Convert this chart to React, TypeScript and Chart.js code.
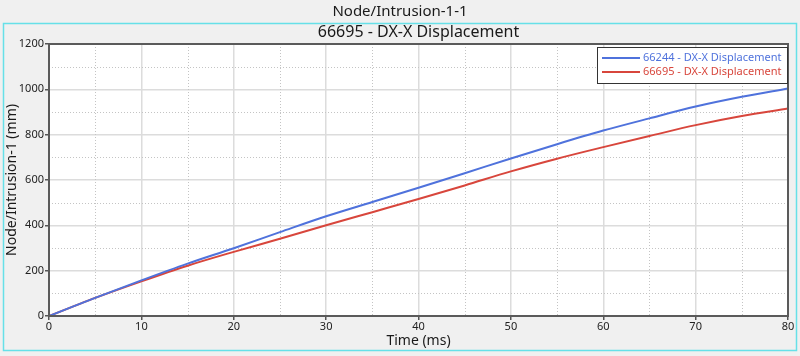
import React, { useEffect, useRef } from "react";
import { Chart, registerables } from "chart.js";

Chart.register(...registerables);

const timeMs = [0, 2.5, 5, 10, 15, 20, 25, 30, 35, 40, 45, 50, 55, 60, 65, 70, 75, 80];
const dx66244 = [0, 40, 80, 157, 231, 299, 370, 440, 503, 566, 630, 695, 758, 818, 872, 924, 967, 1004];
const dx66695 = [0, 40, 80, 153, 222, 283, 341, 400, 458, 516, 576, 638, 694, 745, 794, 842, 882, 915];
const seriesLabels = ["66244 - DX-X Displacement", "66695 - DX-X Displacement"];
const seriesColors = ["#4f72dc", "#d8463c"];
const xTicks = [0, 10, 20, 30, 40, 50, 60, 70, 80];
const yTicks = [0, 200, 400, 600, 800, 1000, 1200];
const xMinor = [5, 15, 25, 35, 45, 55, 65, 75];
const yMinor = [100, 300, 500, 700, 900, 1100];
const mainTitle = "Node/Intrusion-1-1";
const subTitle = "66695 - DX-X Displacement";
const xTitle = "Time (ms)";
const yTitle = "Node/Intrusion-1 (mm)";

const FONT = "'Noto Sans', 'Open Sans', sans-serif";

const decorPlugin = {
  id: "decor",
  beforeDraw(chart: any) {
    const { ctx, width, height, chartArea: a } = chart;
    ctx.save();
    ctx.fillStyle = "#f0f0f0";
    ctx.fillRect(0, 0, width, height);
    ctx.strokeStyle = "#66e0e8";
    ctx.lineWidth = 1.5;
    ctx.strokeRect(3.5, 23.5, 793, 327);
    ctx.fillStyle = "#ffffff";
    ctx.fillRect(a.left, a.top, a.right - a.left, a.bottom - a.top);
    ctx.restore();
  },
  beforeDatasetsDraw(chart: any) {
    const { ctx, chartArea: a, scales } = chart;
    ctx.save();
    ctx.strokeStyle = "#c4c4c4";
    ctx.lineWidth = 1;
    ctx.setLineDash([1, 2]);
    xMinor.forEach((v) => {
      const px = Math.round(scales.x.getPixelForValue(v)) + 0.5;
      ctx.beginPath();
      ctx.moveTo(px, a.top);
      ctx.lineTo(px, a.bottom);
      ctx.stroke();
    });
    yMinor.forEach((v) => {
      const py = Math.round(scales.y.getPixelForValue(v)) + 0.5;
      ctx.beginPath();
      ctx.moveTo(a.left, py);
      ctx.lineTo(a.right, py);
      ctx.stroke();
    });
    ctx.restore();
  },
  afterDraw(chart: any) {
    const { ctx, chartArea: a } = chart;
    ctx.save();
    ctx.strokeStyle = "#5a5a5a";
    ctx.lineWidth = 2;
    ctx.strokeRect(a.left, a.top, a.right - a.left, a.bottom - a.top);
    ctx.fillStyle = "#1a1a1a";
    ctx.textAlign = "center";
    ctx.textBaseline = "middle";
    ctx.font = `15px ${FONT}`;
    ctx.fillText(mainTitle, 400, 12);
    ctx.font = `16px ${FONT}`;
    ctx.fillText(subTitle, (a.left + a.right) / 2, 32);
    const lx = 597, ly = 47, lw = 190, lh = 36;
    ctx.fillStyle = "#ffffff";
    ctx.fillRect(lx, ly, lw, lh);
    ctx.strokeStyle = "#333333";
    ctx.lineWidth = 1;
    ctx.strokeRect(lx + 0.5, ly + 0.5, lw, lh);
    ctx.font = `11px ${FONT}`;
    ctx.textAlign = "left";
    seriesLabels.forEach((lab, i) => {
      const y = ly + 11 + i * 14;
      ctx.strokeStyle = seriesColors[i];
      ctx.lineWidth = 2;
      ctx.beginPath();
      ctx.moveTo(lx + 5, y);
      ctx.lineTo(lx + 43, y);
      ctx.stroke();
      ctx.fillStyle = seriesColors[i];
      ctx.fillText(lab, lx + 46, y);
    });
    ctx.restore();
  },
};

export default function App() {
  const ref = useRef<HTMLCanvasElement | null>(null);
  useEffect(() => {
    if (!ref.current) return;
    const mk = (vals: number[]) => timeMs.map((t, i) => ({ x: t, y: vals[i] }));
    const chart = new Chart(ref.current, {
      type: "line",
      data: {
        datasets: [
          { label: seriesLabels[0], data: mk(dx66244), borderColor: seriesColors[0], borderWidth: 2, pointRadius: 0, cubicInterpolationMode: "monotone", fill: false },
          { label: seriesLabels[1], data: mk(dx66695), borderColor: seriesColors[1], borderWidth: 2, pointRadius: 0, cubicInterpolationMode: "monotone", fill: false },
        ],
      },
      options: {
        animation: false,
        responsive: false,
        maintainAspectRatio: false,
        layout: { padding: { top: 44, left: 0, right: 12, bottom: 0 } },
        plugins: { legend: { display: false }, tooltip: { enabled: false }, title: { display: false } },
        scales: {
          x: {
            type: "linear",
            min: 0,
            max: 80,
            afterBuildTicks: (s: any) => { s.ticks = xTicks.map((v) => ({ value: v })); },
            afterFit: (s: any) => { s.height = 40; },
            ticks: { color: "#222", font: { family: FONT, size: 11 }, padding: 0, maxRotation: 0, autoSkip: false, callback: (v: any) => String(v) },
            grid: { color: "#dcdcdc", lineWidth: 1.5, tickColor: "#555", tickLength: 4 },
            border: { color: "#5a5a5a", width: 2 },
            title: { display: true, text: xTitle, color: "#1a1a1a", font: { family: FONT, size: 14 }, padding: { top: 0, bottom: 7 } },
          },
          y: {
            type: "linear",
            min: 0,
            max: 1200,
            afterBuildTicks: (s: any) => { s.ticks = yTicks.map((v) => ({ value: v })); },
            afterFit: (s: any) => { s.width = 49; },
            ticks: { color: "#222", font: { family: FONT, size: 11 }, padding: 1, autoSkip: false, callback: (v: any) => String(v) },
            grid: { color: "#dcdcdc", lineWidth: 1.5, tickColor: "#555", tickLength: 4 },
            border: { color: "#5a5a5a", width: 2 },
            title: { display: true, text: yTitle, color: "#1a1a1a", font: { family: FONT, size: 14 }, padding: { top: 4, bottom: 0 } },
          },
        },
      },
      plugins: [decorPlugin],
    });
    return () => chart.destroy();
  }, []);
  return (
    <div style={{ position: "fixed", left: 0, top: 0, width: 800, height: 356, background: "#f0f0f0" }}>
      <canvas ref={ref} width={800} height={356} style={{ display: "block", width: 800, height: 356 }} />
    </div>
  );
}
